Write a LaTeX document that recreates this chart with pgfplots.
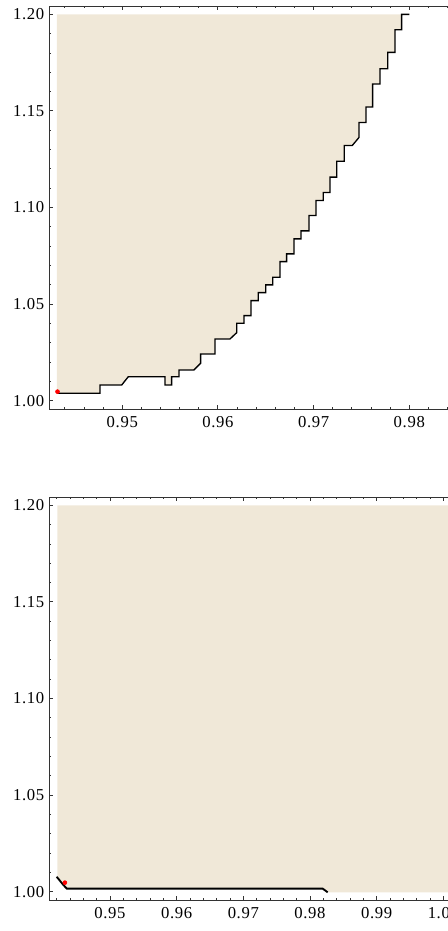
\documentclass[border=0pt]{standalone}
\usepackage{fontspec}
\setmainfont{Liberation Serif}
\usepackage{pgfplots}
\pgfplotsset{compat=1.18}

\definecolor{region}{RGB}{240,232,216}

\pgfplotsset{
  panel/.style={
    scale only axis,
    width=308.25pt,
    height=302.5pt,
    ymin=0.9955, ymax=1.2043,
    ytick={1.00,1.05,1.10,1.15,1.20},
    minor ytick={1.01,1.02,1.03,1.04,1.06,1.07,1.08,1.09,1.11,1.12,1.13,1.14,1.16,1.17,1.18,1.19},
    axis line style={black!80, line width=0.7pt},
    every tick/.style={black!80, line width=0.7pt},
    major tick length=3pt,
    minor tick length=1.6pt,
    tick align=inside,
    ticklabel style={font=\fontsize{12.5}{14}\selectfont\addfontfeature{LetterSpace=4}},
    xticklabel style={yshift=-1.5pt},
    /pgf/number format/.cd, fixed, fixed zerofill, precision=2, assume math mode=true,
  },
}

\begin{document}
\begin{tikzpicture}
\path[use as bounding box] (0,0) rectangle (335.25pt,-698.25pt);

% upper panel
\begin{axis}[panel,
    at={(36.75pt,-307.05pt)}, anchor=south west,
    xmin=0.94234, xmax=0.98530,
    xtick={0.95,0.96,0.97,0.98},
    minor xtick={0.944,0.946,0.948,0.952,0.954,0.956,0.958,0.962,0.964,0.966,0.968,0.972,0.974,0.976,0.978,0.982,0.984},
  ]
  \addplot[fill=region, draw=none] coordinates {
    (0.94317,1.2) (0.94317,1.00383)
    (0.94767,1.00383) (0.94767,1.00813) (0.94994,1.00813) (0.95063,1.01244)
    (0.95446,1.01244) (0.95446,1.00813) (0.95516,1.00813) (0.95516,1.01244)
    (0.95593,1.01244) (0.95593,1.01591) (0.95749,1.01591) (0.95819,1.01938)
    (0.95819,1.02420) (0.95969,1.02420) (0.95969,1.03197) (0.96126,1.03197)
    (0.96196,1.03523) (0.96196,1.04010) (0.96272,1.04010) (0.96272,1.04404)
    (0.96345,1.04404) (0.96345,1.05181) (0.96422,1.05181) (0.96422,1.05596)
    (0.96499,1.05596) (0.96499,1.05995) (0.96572,1.05995) (0.96572,1.06394)
    (0.96648,1.06394) (0.96648,1.07202) (0.96718,1.07202) (0.96718,1.07601)
    (0.96795,1.07601) (0.96795,1.08378) (0.96868,1.08378) (0.96868,1.08793)
    (0.96952,1.08793) (0.96952,1.09585) (0.97025,1.09585) (0.97025,1.10363)
    (0.97101,1.10363) (0.97101,1.10777) (0.97171,1.10777) (0.97171,1.11575)
    (0.97241,1.11575) (0.97241,1.12394) (0.97320,1.12394) (0.97320,1.13212)
    (0.97404,1.13212) (0.97474,1.13627) (0.97474,1.14404) (0.97547,1.14404)
    (0.97547,1.15202) (0.97617,1.15202) (0.97617,1.16394) (0.97694,1.16394)
    (0.97694,1.17187) (0.97774,1.17187) (0.97774,1.18031) (0.97850,1.18031)
    (0.97850,1.19207) (0.97920,1.19207) (0.97920,1.2)
  } -- cycle;
  \addplot[black, line width=1pt] coordinates {
    (0.94317,1.00383)
    (0.94767,1.00383) (0.94767,1.00813) (0.94994,1.00813) (0.95063,1.01244)
    (0.95446,1.01244) (0.95446,1.00813) (0.95516,1.00813) (0.95516,1.01244)
    (0.95593,1.01244) (0.95593,1.01591) (0.95749,1.01591) (0.95819,1.01938)
    (0.95819,1.02420) (0.95969,1.02420) (0.95969,1.03197) (0.96126,1.03197)
    (0.96196,1.03523) (0.96196,1.04010) (0.96272,1.04010) (0.96272,1.04404)
    (0.96345,1.04404) (0.96345,1.05181) (0.96422,1.05181) (0.96422,1.05596)
    (0.96499,1.05596) (0.96499,1.05995) (0.96572,1.05995) (0.96572,1.06394)
    (0.96648,1.06394) (0.96648,1.07202) (0.96718,1.07202) (0.96718,1.07601)
    (0.96795,1.07601) (0.96795,1.08378) (0.96868,1.08378) (0.96868,1.08793)
    (0.96952,1.08793) (0.96952,1.09585) (0.97025,1.09585) (0.97025,1.10363)
    (0.97101,1.10363) (0.97101,1.10777) (0.97171,1.10777) (0.97171,1.11575)
    (0.97241,1.11575) (0.97241,1.12394) (0.97320,1.12394) (0.97320,1.13212)
    (0.97404,1.13212) (0.97474,1.13627) (0.97474,1.14404) (0.97547,1.14404)
    (0.97547,1.15202) (0.97617,1.15202) (0.97617,1.16394) (0.97694,1.16394)
    (0.97694,1.17187) (0.97774,1.17187) (0.97774,1.18031) (0.97850,1.18031)
    (0.97850,1.19207) (0.97920,1.19207) (0.97920,1.2) (0.98000,1.2)
  };
  \addplot[only marks, mark=*, mark size=1.5pt, red] coordinates {(0.94323,1.0047)};
\end{axis}

% lower panel
\begin{axis}[panel,
    at={(36.75pt,-675.3pt)}, anchor=south west,
    xmin=0.94085, xmax=1.00250,
    xtick={0.95,0.96,0.97,0.98,0.99,1.00},
    minor xtick={0.942,0.944,0.946,0.948,0.952,0.954,0.956,0.958,0.962,0.964,0.966,0.968,0.972,0.974,0.976,0.978,0.982,0.984,0.986,0.988,0.992,0.994,0.996,0.998,1.002},
  ]
  \addplot[fill=region, draw=none] coordinates {
    (0.94210,1.2) (0.94210,1.00776) (0.94301,1.00347) (0.94352,1.0016)
    (0.98190,1.0016) (0.98265,0.9997) (1.0025,0.9997) (1.0025,1.2)
  } -- cycle;
  \addplot[black, line width=1.4pt] coordinates {
    (0.94200,1.00776) (0.94301,1.00347) (0.94352,1.0016)
    (0.98190,1.0016) (0.98265,0.9997)
  };
  \addplot[only marks, mark=*, mark size=1.5pt, red] coordinates {(0.94323,1.0047)};
\end{axis}
\end{tikzpicture}
\end{document}
